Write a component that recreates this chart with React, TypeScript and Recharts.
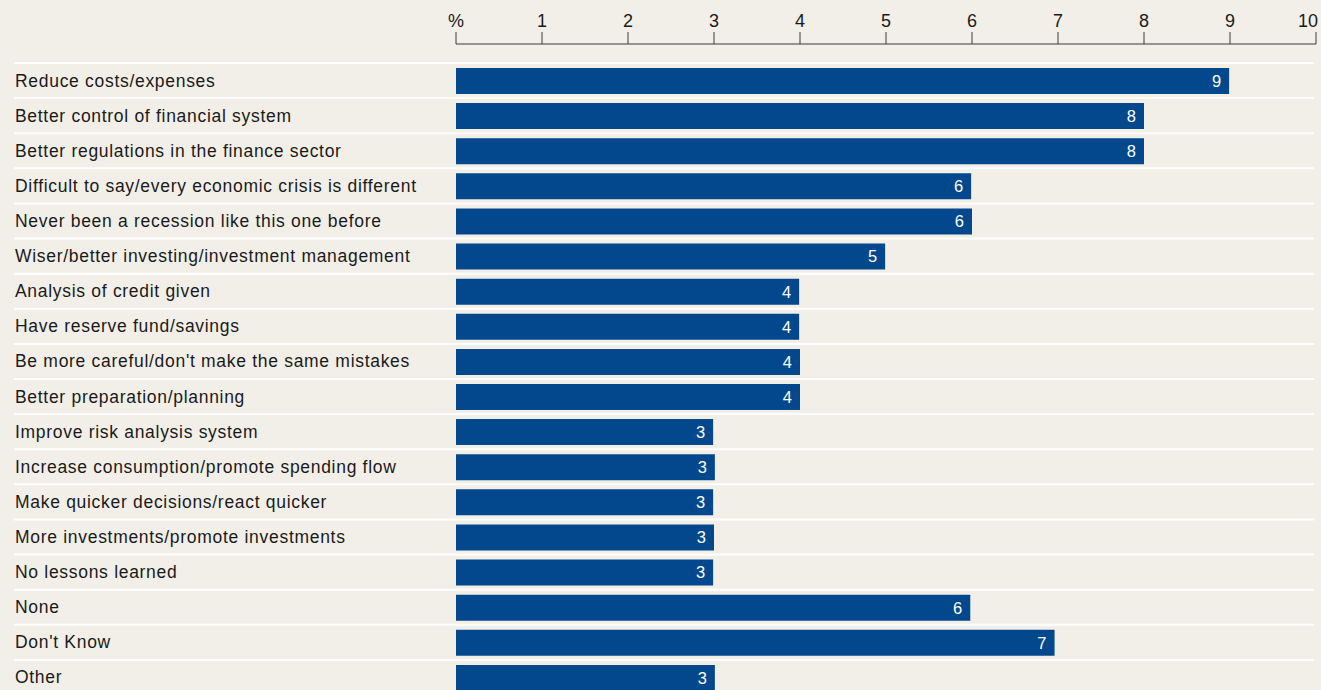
import { BarChart, Bar, XAxis, YAxis, LabelList } from 'recharts';

const categories = [
  'Reduce costs/expenses',
  'Better control of financial system',
  'Better regulations in the finance sector',
  'Difficult to say/every economic crisis is different',
  'Never been a recession like this one before',
  'Wiser/better investing/investment management',
  'Analysis of credit given',
  'Have reserve fund/savings',
  "Be more careful/don't make the same mistakes",
  'Better preparation/planning',
  'Improve risk analysis system',
  'Increase consumption/promote spending flow',
  'Make quicker decisions/react quicker',
  'More investments/promote investments',
  'No lessons learned',
  'None',
  "Don't Know",
  'Other',
];

const values = [8.99, 8.0, 8.0, 5.99, 6.0, 4.99, 3.99, 3.99, 4.0, 4.0, 2.99, 3.01, 2.99, 3.0, 2.99, 5.98, 6.96, 3.01];

const xTicks = [0, 1, 2, 3, 4, 5, 6, 7, 8, 9, 10];

const data = categories.map((name, i) => ({ name, value: values[i] }));

const BG = '#f2efe9';
const BLUE = '#03488c';
const TEXT = '#1a1a1a';
const FONT = "'Liberation Sans', Arial, sans-serif";
const HALF_ROW = 17.55;

// category label plus the white separator line above each row
function CategoryTick(props: any) {
  const { y, payload } = props;
  return (
    <g>
      <line x1={14} x2={1314} y1={y - HALF_ROW} y2={y - HALF_ROW} stroke="#ffffff" strokeWidth={2} />
      <text x={15} y={y} dy="0.34em" fill={TEXT} fontSize={17.5} letterSpacing={0.7} fontFamily={FONT}>
        {payload.value}
      </text>
    </g>
  );
}

// top axis labels, last one pulled inside the frame
function PercentTick(props: any) {
  const { x, y, payload } = props;
  const v = payload.value;
  const last = v === xTicks[xTicks.length - 1];
  return (
    <text
      x={last ? x + 2 : x}
      y={y}
      textAnchor={last ? 'end' : 'middle'}
      fill={TEXT}
      fontSize={18}
      fontFamily={FONT}
    >
      {v === 0 ? '%' : String(v)}
    </text>
  );
}

export default function App() {
  return (
    <div
      style={{
        position: 'absolute',
        left: 0,
        top: 0,
        width: 1321,
        height: 690,
        overflow: 'hidden',
        background: BG,
      }}
    >
      <BarChart
        width={1321}
        height={695}
        data={data}
        layout="vertical"
        margin={{ top: 0, right: 5, bottom: 0, left: 0 }}
      >
        <XAxis
          type="number"
          orientation="top"
          domain={[0, 10]}
          ticks={xTicks}
          height={44}
          tickSize={12}
          tickMargin={5}
          interval={0}
          stroke="#3a3a3a"
          tick={<PercentTick />}
        />
        <YAxis
          type="category"
          dataKey="name"
          width={456}
          axisLine={false}
          tickLine={false}
          interval={0}
          padding={{ top: 19, bottom: 0 }}
          tick={<CategoryTick />}
        />
        <Bar dataKey="value" fill={BLUE} barSize={26} isAnimationActive={false}>
          <LabelList
            dataKey="value"
            position="insideRight"
            offset={8}
            fill="#ffffff"
            fontSize={16.5}
            fontFamily={FONT}
            formatter={(v: any) => Math.round(Number(v))}
          />
        </Bar>
      </BarChart>
    </div>
  );
}
